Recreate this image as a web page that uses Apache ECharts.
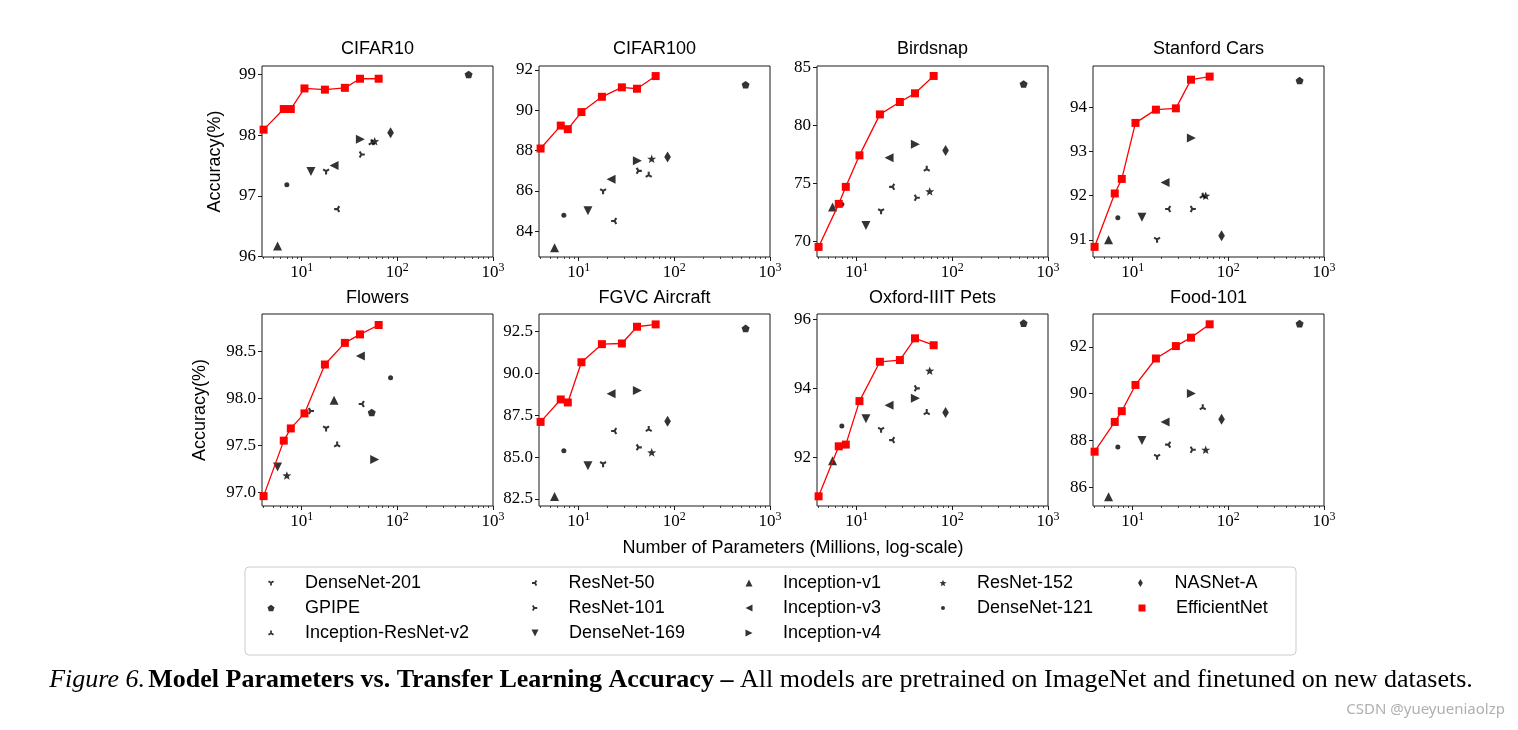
<!DOCTYPE html>
<html>
<head>
<meta charset="utf-8">
<script src="https://cdn.jsdelivr.net/npm/echarts@6/dist/echarts.min.js"></script>
<style>
  html, body { margin: 0; padding: 0; background: #fff; }
  #chart { width: 1518px; height: 730px; }
</style>
</head>
<body>
<div id="chart"></div>
<script>
// ---- data ----
const datasets = ['CIFAR10', 'CIFAR100', 'Birdsnap', 'Stanford Cars', 'Flowers', 'FGVC Aircraft', 'Oxford-IIIT Pets', 'Food-101']
const models = ['DenseNet-201', 'GPIPE', 'Inception-ResNet-v2', 'ResNet-50', 'ResNet-101', 'DenseNet-169',
  'Inception-v1', 'Inception-v3', 'Inception-v4', 'ResNet-152', 'DenseNet-121', 'NASNet-A']
// parameters (millions) of each model, same order as models
const modelParams = [18, 556, 54, 23.5, 42.5, 12.5, 5.6, 21.8, 41.1, 58, 7.0, 85]
// in the Flowers panel the markers sit at other models' positions (as in the figure)
const flowersParams = [18, 54, 23.5, 42.5, 12.5, 5.6, 21.8, 41.1, 58, 7.0, 85, null]
const effParams = [4.0, 6.5, 7.7, 10.7, 17.5, 28.3, 40.7, 63.8]

const accCifar10 = [97.40, 99.00, 97.88, 96.78, 97.68, 97.40, 96.17, 97.50, 97.93, 97.90, 97.18, 98.04]
const effCifar10 = [98.09, 98.43, 98.43, 98.77, 98.75, 98.78, 98.93, 98.93]
const accCifar100 = [85.98, 91.27, 86.80, 84.50, 86.99, 85.01, 83.17, 86.57, 87.49, 87.59, 84.78, 87.68]
const effCifar100 = [88.10, 89.24, 89.06, 89.91, 90.67, 91.14, 91.07, 91.70]
const accBirdsnap = [72.60, 83.59, 76.27, 74.70, 73.76, 71.36, 72.97, 77.22, 78.37, 74.31, 73.20, 77.85]
const effBirdsnap = [69.51, 73.23, 74.70, 77.42, 80.96, 82.03, 82.78, 84.28]
const accCars = [91.00, 94.61, 92.00, 91.70, 91.70, 91.51, 91.00, 92.30, 93.31, 92.00, 91.50, 91.09]
const effCars = [90.84, 92.05, 92.38, 93.65, 93.95, 93.98, 94.63, 94.70]
const accFlowers = [97.68, 97.85, 97.51, 97.94, 97.865, 97.27, 97.98, 98.45, 97.35, 97.18, 98.22, null]
const effFlowers = [96.96, 97.55, 97.68, 97.84, 98.36, 98.59, 98.68, 98.78]
const accAircraft = [84.58, 92.68, 86.68, 86.56, 85.58, 84.48, 82.64, 88.78, 88.98, 85.28, 85.38, 87.14]
const effAircraft = [87.10, 88.44, 88.26, 90.66, 91.74, 91.78, 92.78, 92.92]
const accPets = [92.80, 95.89, 93.31, 92.50, 94.00, 93.12, 91.90, 93.51, 93.71, 94.51, 92.91, 93.30]
const effPets = [90.87, 92.32, 92.37, 93.63, 94.77, 94.82, 95.45, 95.25]
const accFood = [87.30, 92.99, 89.42, 87.82, 87.60, 88.00, 85.60, 88.79, 90.01, 87.60, 87.72, 88.91]
const effFood = [87.52, 88.79, 89.25, 90.37, 91.50, 92.03, 92.39, 92.96]

const yMin = [95.99, 82.71, 68.64, 90.61, 96.855, 82.08, 90.59, 85.20]
const yMax = [99.14, 92.20, 85.14, 94.94, 98.897, 93.54, 96.155, 93.40]
const yTicks = [[96, 97, 98, 99], [84, 86, 88, 90, 92], [70, 75, 80, 85], [91, 92, 93, 94],
  [97.0, 97.5, 98.0, 98.5], [82.5, 85.0, 87.5, 90.0, 92.5], [92, 94, 96], [86, 88, 90, 92]]
const xMajorTicks = [10, 100, 1000]
const xMinorTicks = [4, 5, 6, 7, 8, 9, 20, 30, 40, 50, 60, 70, 80, 90, 200, 300, 400, 500, 600, 700, 800, 900]

const accAll = [accCifar10, accCifar100, accBirdsnap, accCars, accFlowers, accAircraft, accPets, accFood]
const effAll = [effCifar10, effCifar100, effBirdsnap, effCars, effFlowers, effAircraft, effPets, effFood]

// ---- marker shapes ----
function polyPath(pts) {
  return 'path://' + pts.map((p, i) => (i ? 'L' : 'M') + (p[0] * 100 + 200).toFixed(1) + ',' + (p[1] * 100 + 200).toFixed(1)).join('') + 'Z'
}
function triPath(angles) {
  const h = 0.3
  let d = 'path://'
  angles.forEach(a => {
    const r = a * Math.PI / 180
    const dx = Math.cos(r), dy = Math.sin(r), px = -dy * h, py = dx * h
    const q = [[px, py], [dx + px, dy + py], [dx - px, dy - py], [-px, -py]]
    d += q.map((p, i) => (i ? 'L' : 'M') + (p[0] * 100 + 200).toFixed(1) + ',' + (p[1] * 100 + 200).toFixed(1)).join('') + 'Z'
  })
  return d
}
function starPts(n, r1, r2) {
  const pts = []
  for (let i = 0; i < n * 2; i++) {
    const r = i % 2 ? r2 : r1
    const a = -Math.PI / 2 + i * Math.PI / n
    pts.push([r * Math.cos(a), r * Math.sin(a)])
  }
  return pts
}
function regPts(n) {
  const pts = []
  for (let i = 0; i < n; i++) {
    const a = -Math.PI / 2 + i * 2 * Math.PI / n
    pts.push([Math.cos(a), Math.sin(a)])
  }
  return pts
}
const markers = [
  {symbol: triPath([90, 210, 330]), size: 7, legend: 6},
  {symbol: polyPath(regPts(5)), size: 8, legend: 7},
  {symbol: triPath([270, 30, 150]), size: 7, legend: 6},
  {symbol: triPath([180, 300, 60]), size: 7, legend: 6},
  {symbol: triPath([0, 120, 240]), size: 7, legend: 6},
  {symbol: 'path://M0,0L2,0L1,2Z', size: 9, legend: 7},
  {symbol: 'path://M1,0L2,2L0,2Z', size: 9, legend: 7},
  {symbol: 'path://M0,1L2,0L2,2Z', size: 9, legend: 7},
  {symbol: 'path://M0,0L2,1L0,2Z', size: 9, legend: 7},
  {symbol: polyPath(starPts(5, 1, 0.42)), size: 9, legend: 7},
  {symbol: 'circle', size: 5, legend: 4},
  {symbol: 'path://M3,0L6,5L3,10L0,5Z', size: 11, legend: 8}
]

// ---- layout ----
const gridLeft = [262, 539, 817, 1093]
const gridTop = [66, 314]
const gridW = 231
const gridH = [191, 192]
const frameColor = '#1a1a1a'
const serif = 'Liberation Serif'
const sans = 'Liberation Sans'

const grids = [], xAxes = [], yAxes = [], series = [], graphics = []

datasets.forEach((name, p) => {
  const col = p % 4, row = Math.floor(p / 4)
  grids.push({
    left: gridLeft[col], top: gridTop[row], width: gridW, height: gridH[row],
    show: true, borderColor: frameColor, borderWidth: 1, backgroundColor: 'transparent',
    containLabel: false, outerBoundsMode: 'none'
  })
  xAxes.push({
    type: 'log', logBase: 10, gridIndex: p, min: 3.85, max: 1000, position: 'bottom',
    axisLine: {show: false, onZero: false},
    splitLine: {show: false},
    axisTick: {show: true, length: 4, customValues: xMajorTicks, lineStyle: {color: frameColor}},
    axisLabel: {
      customValues: xMajorTicks, margin: 5, color: '#000',
      formatter: v => {
        const e = v > 5 ? Math.round(Math.log10(v)) : Math.round(v)
        return '{b|10}{s|' + e + '}'
      },
      rich: {
        b: {fontSize: 17, fontFamily: serif, color: '#000'},
        s: {fontSize: 12, fontFamily: serif, color: '#000', padding: [0, 0, 9, 0]}
      }
    }
  })
  xAxes.push({
    type: 'log', logBase: 10, gridIndex: p, min: 3.85, max: 1000, position: 'bottom',
    axisLine: {show: false, onZero: false},
    splitLine: {show: false},
    axisLabel: {show: false},
    axisTick: {show: true, length: 2, customValues: xMinorTicks, lineStyle: {color: frameColor, width: 0.8}}
  })
  const dec = (p === 4 || p === 5) ? 1 : 0
  yAxes.push({
    type: 'value', gridIndex: p, min: yMin[p], max: yMax[p],
    name: col === 0 ? 'Accuracy(%)' : '',
    nameLocation: 'middle', nameGap: row === 0 ? 38 : 53,
    nameTextStyle: {fontSize: 18, fontFamily: sans, color: '#000'},
    axisLine: {show: false},
    splitLine: {show: false},
    axisTick: {show: true, length: 4, customValues: yTicks[p], lineStyle: {color: frameColor}},
    axisLabel: {
      customValues: yTicks[p], margin: 6, fontSize: 17, fontFamily: serif, color: '#000',
      formatter: v => Number(v).toFixed(dec)
    }
  })
  graphics.push({
    type: 'text', x: gridLeft[col] + gridW / 2, y: row === 0 ? 49 : 298,
    style: {text: name, font: '18px ' + sans, fill: '#000', align: 'center', verticalAlign: 'middle'}
  })

  const xs = p === 4 ? flowersParams : modelParams
  models.forEach((m, i) => {
    const x = xs[i], y = accAll[p][i]
    series.push({
      type: 'scatter', name: m, xAxisIndex: 2 * p, yAxisIndex: p,
      symbol: markers[i].symbol, symbolSize: markers[i].size, symbolKeepAspect: true,
      itemStyle: {color: '#000'},
      data: (x != null && y != null) ? [[x, y]] : [],
      silent: true
    })
  })
  series.push({
    type: 'line', name: 'EfficientNet', xAxisIndex: 2 * p, yAxisIndex: p,
    data: effParams.map((x, i) => [x, effAll[p][i]]),
    symbol: 'rect', symbolSize: 8, showSymbol: true,
    itemStyle: {color: '#ff0000'},
    lineStyle: {color: '#ff0000', width: 1.3},
    silent: true, z: 3
  })
})

// ---- legend: matplotlib column-major layout ----
const legendOrder = [...models.map((m, i) => ({name: m, icon: markers[i].symbol, size: markers[i].legend})),
  {name: 'EfficientNet', icon: 'rect', size: 7}]
const legendColRows = [3, 3, 3, 2, 2]
const legendTextX = [305, 569, 783, 977, 1176]
const legendRowY = [584, 609, 634]
const legends = []
let k = 0
legendColRows.forEach((n, c) => {
  for (let r = 0; r < n; r++, k++) {
    const it = legendOrder[k]
    const mc = legendTextX[c] - 34
    const left = mc - it.size / 2
    legends.push({
      data: [{name: it.name, icon: it.icon}],
      left: left, top: legendRowY[r] - 10, padding: 0,
      itemWidth: it.size, itemHeight: it.size, selectedMode: false,
      symbolKeepAspect: true,
      textStyle: {
        fontSize: 18, fontFamily: sans, color: '#000',
        padding: [0, 0, 0, legendTextX[c] - (left + it.size + 5)]
      }
    })
  }
})

graphics.push(
  {
    type: 'rect', shape: {x: 245, y: 567, width: 1051, height: 88, r: 4},
    style: {fill: 'none', stroke: '#cccccc', lineWidth: 1}
  },
  {
    type: 'text', x: 793, y: 548,
    style: {text: 'Number of Parameters (Millions, log-scale)', font: '18px ' + sans, fill: '#000', align: 'center', verticalAlign: 'middle'}
  },
  {
    type: 'text', x: 761, y: 680,
    style: {
      text: '{i|Figure 6.} {b|Model Parameters vs. Transfer Learning Accuracy –}  {r|All models are pretrained on ImageNet and finetuned on new datasets.}',
      align: 'center', verticalAlign: 'middle',
      rich: {
        i: {font: 'italic 26px ' + serif, fill: '#000'},
        b: {font: 'bold 26px ' + serif, fill: '#000'},
        r: {font: '26px ' + serif, fill: '#000'}
      }
    }
  },
  {
    type: 'text', x: 1505, y: 710,
    style: {text: 'CSDN @yueyueniaolzp', font: '15px "Noto Sans"', fill: '#b0b0b0', align: 'right', verticalAlign: 'middle'}
  }
)

const chart = echarts.init(document.getElementById('chart'))
chart.setOption({
  animation: false,
  backgroundColor: '#fff',
  grid: grids,
  xAxis: xAxes,
  yAxis: yAxes,
  legend: legends,
  series: series,
  graphic: graphics
})
</script>
</body>
</html>
